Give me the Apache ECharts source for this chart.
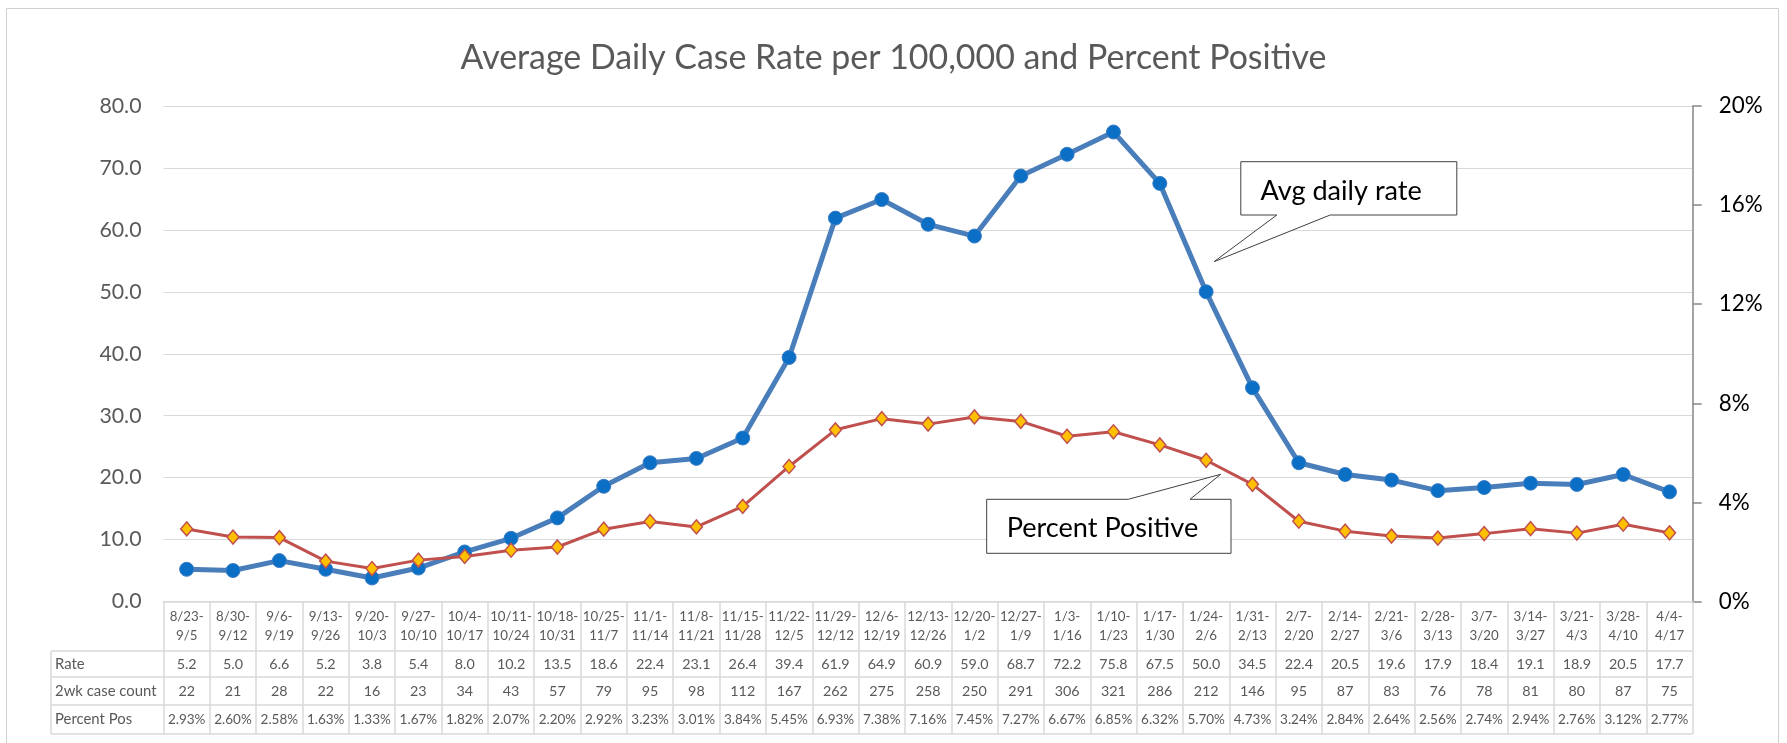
<!DOCTYPE html>
<html>
<head>
<meta charset="utf-8">
<script src="https://cdn.jsdelivr.net/npm/echarts@6/dist/echarts.min.js"></script>
<style>
html,body{margin:0;padding:0;background:#fff;}
#chart{width:1787px;height:743px;}
</style>
</head>
<body>
<div id="chart"></div>
<script>
// ---- data ----
const weeks = ["8/23-9/5","8/30-9/12","9/6-9/19","9/13-9/26","9/20-10/3","9/27-10/10","10/4-10/17","10/11-10/24","10/18-10/31","10/25-11/7","11/1-11/14","11/8-11/21","11/15-11/28","11/22-12/5","11/29-12/12","12/6-12/19","12/13-12/26","12/20-1/2","12/27-1/9","1/3-1/16","1/10-1/23","1/17-1/30","1/24-2/6","1/31-2/13","2/7-2/20","2/14-2/27","2/21-3/6","2/28-3/13","3/7-3/20","3/14-3/27","3/21-4/3","3/28-4/10","4/4-4/17"];
const rate = [5.2,5.0,6.6,5.2,3.8,5.4,8.0,10.2,13.5,18.6,22.4,23.1,26.4,39.4,61.9,64.9,60.9,59.0,68.7,72.2,75.8,67.5,50.0,34.5,22.4,20.5,19.6,17.9,18.4,19.1,18.9,20.5,17.7];
const caseCount = [22,21,28,22,16,23,34,43,57,79,95,98,112,167,262,275,258,250,291,306,321,286,212,146,95,87,83,76,78,81,80,87,75];
const pctPos = [2.93,2.60,2.58,1.63,1.33,1.67,1.82,2.07,2.20,2.92,3.23,3.01,3.84,5.45,6.93,7.38,7.16,7.45,7.27,6.67,6.85,6.32,5.70,4.73,3.24,2.84,2.64,2.56,2.74,2.94,2.76,3.12,2.77];
const rowLabels = ["Rate","2wk case count","Percent Pos"];
const leftTicks = {min:0, max:80, interval:10};
const rightTicks = {min:0, max:20, interval:4};
const titleText = "Average Daily Case Rate per 100,000 and Percent Positive";

// ---- font sizing helper (Lato ~ Calibri shapes) ----
const FAM = "Lato";
const cv = document.createElement('canvas').getContext('2d');
function fit(text, w){ cv.font = '100px ' + FAM; return +(100*w/cv.measureText(text).width).toFixed(1); }

const titleSize = fit(titleText, 866);
const leftSize = fit("80.0", 42);
const rightSize = fit("20%", 44);
const headSize = fit("3/14-", 34);
const numSize = fit("50.0", 28.3);
const pctSize = fit("2.77%", 37.5);
const rowLabelSize = fit("2wk case count", 102);
const calloutSize = fit("Avg daily rate", 161.5);

// ---- layout ----
const G = {left:163.5, right:1692.7, top:106, bottom:601.5};
const rows = [651, 677, 705, 734]; // bottom edges of header / rate / count / pct rows
const tableLeft = 51;
const gray = '#d9d9d9';

const chart = echarts.init(document.getElementById('chart'), null, {renderer:'canvas'});

function rowAxis(data, center, size){
  return {
    type:'category', data:data, position:'bottom', gridIndex:0,
    offset: center - G.bottom,
    axisLine:{show:false}, axisTick:{show:false}, splitLine:{show:false},
    axisLabel:{interval:0, margin:0, verticalAlign:'middle', color:'#595959', fontFamily:FAM, fontSize:size}
  };
}

const graphics = [];
// chart border
graphics.push({type:'rect', shape:{x:6.5, y:8.5, width:1772, height:760}, style:{fill:null, stroke:'#d0d0d0', lineWidth:1}, silent:true});
// table horizontal lines (row-label column + grid width)
rows.forEach(y => graphics.push({type:'line', shape:{x1:tableLeft, y1:y, x2:G.right, y2:y}, style:{stroke:gray, lineWidth:1.5}, silent:true}));
graphics.push({type:'line', shape:{x1:tableLeft, y1:rows[0], x2:tableLeft, y2:rows[3]}, style:{stroke:gray, lineWidth:1.5}, silent:true});
// row labels
const rowCenters = [(rows[0]+rows[1])/2, (rows[1]+rows[2])/2, (rows[2]+rows[3])/2];
rowLabels.forEach((t,i) => graphics.push({type:'text', x:55, y:rowCenters[i], style:{text:t, fill:'#595959', font: rowLabelSize+'px '+FAM, textVerticalAlign:'middle', textAlign:'left'}, silent:true}));
// callouts
graphics.push({type:'polygon', shape:{points:[[1240.8,161.7],[1456.8,161.7],[1456.8,215],[1330.2,215],[1214,261.7],[1276.8,215],[1240.8,215]]}, style:{fill:'#fff', stroke:'#404040', lineWidth:1}, z:100});
graphics.push({type:'text', x:1260.5, y:191, style:{text:'Avg daily rate', fill:'#000', font: calloutSize+'px '+FAM, textVerticalAlign:'middle'}, z:101});
graphics.push({type:'polygon', shape:{points:[[986.7,499.3],[1128.3,499.3],[1220.7,474.3],[1190,499.3],[1231,499.3],[1231,553.3],[986.7,553.3]]}, style:{fill:'#fff', stroke:'#404040', lineWidth:1}, z:100});
graphics.push({type:'text', x:1006.7, y:528, style:{text:'Percent Positive', fill:'#000', font: calloutSize+'px '+FAM, textVerticalAlign:'middle'}, z:101});

const option = {
  animation:false,
  backgroundColor:'#fff',
  title:{text:titleText, left:'center', top:51 - titleSize/2 + 2,
    textStyle:{fontFamily:FAM, fontSize:titleSize, fontWeight:'normal', color:'#595959', lineHeight:titleSize}},
  grid:{left:G.left, right:1787-G.right, top:G.top, bottom:743-G.bottom, containLabel:false},
  xAxis:[
    {type:'category', data:weeks, position:'bottom', boundaryGap:true,
      axisLine:{show:true, lineStyle:{color:gray, width:1.5}},
      axisTick:{show:true, interval:0, length:rows[3]-G.bottom, lineStyle:{color:gray, width:1.5}},
      axisLabel:{interval:0, margin:(rows[0]-G.bottom)/2, verticalAlign:'middle', color:'#595959', fontFamily:FAM, fontSize:headSize, lineHeight:19,
        formatter:s => s.replace('-', '-\n')}},
    rowAxis(rate.map(v => v.toFixed(1)), rowCenters[0], numSize),
    rowAxis(caseCount.map(String), rowCenters[1], numSize),
    rowAxis(pctPos.map(v => v.toFixed(2)+'%'), rowCenters[2], pctSize)
  ],
  yAxis:[
    {type:'value', min:leftTicks.min, max:leftTicks.max, interval:leftTicks.interval, position:'left',
      axisLine:{show:false}, axisTick:{show:false},
      splitLine:{show:true, lineStyle:{color:gray, width:1.2}},
      axisLabel:{margin:22, color:'#595959', fontFamily:FAM, fontSize:leftSize, formatter:v => v.toFixed(1)}},
    {type:'value', min:rightTicks.min, max:rightTicks.max, interval:rightTicks.interval, position:'right',
      axisLine:{show:true, lineStyle:{color:'#868686', width:1.5}},
      axisTick:{show:true, inside:false, length:9, lineStyle:{color:'#868686', width:1.5}},
      splitLine:{show:false},
      axisLabel:{margin:26, color:'#000', fontFamily:FAM, fontSize:rightSize, formatter:v => v + '%'}}
  ],
  series:[
    {name:'Avg daily rate', type:'line', xAxisIndex:0, yAxisIndex:0, data:rate,
      lineStyle:{color:'#4a7ebb', width:5}, symbol:'circle', symbolSize:14,
      itemStyle:{color:'#0b6fc6', borderColor:'#3b7dc4', borderWidth:1}, z:2},
    {name:'Percent Positive', type:'line', xAxisIndex:0, yAxisIndex:1, data:pctPos,
      lineStyle:{color:'#c0504d', width:3}, symbol:'diamond', symbolSize:[12,14],
      itemStyle:{color:'#ffc000', borderColor:'#c0504d', borderWidth:1.5}, z:3}
  ],
  graphic:graphics
};
chart.setOption(option);
</script>
</body>
</html>
